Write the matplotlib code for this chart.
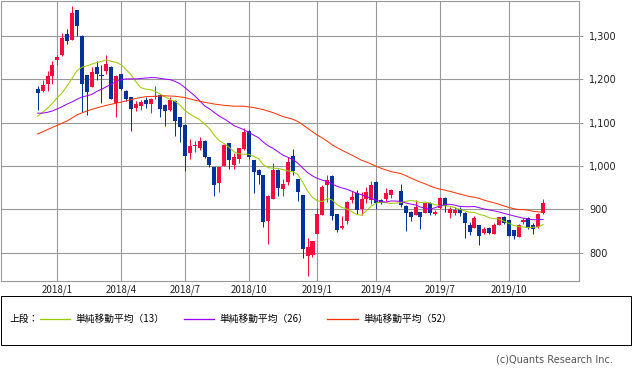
import numpy as np
import pandas as pd
import matplotlib
matplotlib.use("Agg")
import matplotlib.pyplot as plt
from matplotlib.patches import Rectangle
from matplotlib.lines import Line2D

# ---------------- data (weekly candles, week of 2017-12-04 .. 2019-11-18) ----------------
first_week = "2017-12-04"
n_weeks = 104
no_trade_week = "2019-04-29"   # Golden Week 2019, no trading

opens = [1177, 1173, 1190, 1208, 1245, 1256, 1305, 1291, 1360, 1301, 1210, 1183, 1229, 1210, 1220, 1229,
         1146, 1212, 1174, 1159, 1135, 1139, 1152, 1143, 1159, 1164, 1141, 1129, 1151, 1112, 1095, 1031,
         1046, 1041, 1058, 1020, 997, 960, 1000, 1052, 1003, 1016, 1039, 1081, 1014, 991, 979, 874,
         924, 991, 947, 962, 1023, 969, 933, 793, 795, 843, 887, 956, 978, 889, 856, 874, 922, 938,
         901, 925, 922, 964, 922, 924, 933,
         943, 908, 895, 887, 893, 892, 915, 889, 902, 927, 892, 891, 900, 892, 865, 858, 864, 845,
         858, 843, 864, 883, 875, 852, 837, 870, 881, 864, 859, 891]
highs = [1185, 1198, 1220, 1242, 1256, 1308, 1316, 1369, 1361, 1302, 1211, 1229, 1242, 1233, 1256, 1230,
         1209, 1213, 1175, 1160, 1150, 1152, 1160, 1156, 1185, 1166, 1142, 1159, 1152, 1113, 1096, 1062,
         1058, 1066, 1059, 1021, 998, 998, 1050, 1053, 1031, 1042, 1087, 1082, 1015, 992, 980, 932,
         1008, 992, 969, 1020, 1039, 970, 934, 833, 828, 902, 956, 979, 979, 890, 885, 919, 943, 945,
         941, 952, 965, 965, 923, 950, 947,
         958, 909, 896, 922, 894, 915, 916, 899, 928, 928, 906, 906, 906, 893, 871, 885, 865, 860,
         859, 868, 883, 884, 876, 853, 866, 881, 882, 868, 892, 923]
lows = [1129, 1171, 1174, 1189, 1233, 1255, 1281, 1290, 1301, 1125, 1118, 1182, 1198, 1146, 1212, 1154,
        1114, 1176, 1150, 1081, 1127, 1129, 1135, 1123, 1155, 1112, 1093, 1128, 1070, 1056, 989, 1016,
        1033, 1037, 1019, 998, 931, 941, 999, 992, 992, 1008, 1038, 1016, 938, 958, 860, 820,
        923, 931, 931, 956, 979, 920, 787, 747, 791, 842, 886, 918, 875, 848, 855, 866, 914, 889,
        887, 914, 912, 900, 912, 920, 926,
        906, 851, 872, 886, 855, 891, 887, 886, 901, 895, 879, 887, 885, 835, 841, 857, 818, 843,
        843, 842, 863, 866, 838, 832, 836, 866, 855, 843, 858, 890]
closes = [1169, 1187, 1208, 1233, 1252, 1296, 1289, 1354, 1324, 1189, 1171, 1218, 1212, 1208, 1235, 1155,
          1208, 1178, 1155, 1132, 1144, 1148, 1143, 1155, 1162, 1132, 1127, 1152, 1105, 1089, 1023, 1046,
          1049, 1058, 1020, 1002, 956, 997, 1049, 1014, 1021, 1041, 1079, 1020, 987, 979, 871, 931,
          991, 949, 959, 1010, 989, 941, 808, 814, 827, 889, 952, 968, 885, 852, 862, 918, 929, 898,
          924, 941, 956, 914, 915, 938, 945,
          910, 891, 882, 906, 883, 914, 891, 895, 927, 908, 900, 899, 892, 869, 848, 879, 839, 855,
          845, 864, 882, 868, 839, 839, 865, 875, 856, 855, 889, 915]

# moving-average values at the start of the chart (earlier history not shown)
ma13_head = [1115, 1124, 1133, 1145, 1158, 1169, 1185, 1202, 1220, 1228, 1231, 1235]
ma26_head = [1122, 1122, 1124, 1127, 1132, 1137, 1143, 1148, 1154, 1159, 1162, 1165, 1172, 1177, 1183,
             1189, 1195, 1199, 1201, 1201, 1201, 1202, 1203, 1204, 1204]
ma52_head_weeks = list(range(0, 51, 2))
ma52_head = [1074, 1084, 1094, 1104, 1118, 1127, 1134, 1140, 1145, 1150, 1156, 1160, 1161, 1162, 1161,
             1158, 1152, 1147, 1143, 1140, 1138, 1138, 1135, 1130, 1123, 1114]

y_ticks = [800, 900, 1000, 1100, 1200, 1300]
legend_labels = ["単純移動平均（13）", "単純移動平均（26）", "単純移動平均（52）"]
legend_title = "上段："
credit = "(c)Quants Research Inc."

# ---------------- styles ----------------
UP = "#FF0A3C"
DOWN = "#003399"
C13 = "#99CC00"
C26 = "#9900FF"
C52 = "#FF3300"
GRID = "#999999"
W, H = 633, 371
PX = 72 / 100  # one pixel in points at dpi 100

all_mondays = pd.date_range(first_week, periods=n_weeks, freq="W-MON")
trade_weeks = all_mondays[all_mondays != pd.Timestamp(no_trade_week)]
x = np.array(((trade_weeks - all_mondays[0]).days // 7), dtype=float)

o = np.array(opens, float); h = np.array(highs, float)
l = np.array(lows, float); c = np.array(closes, float)

s = pd.Series(c)
ma13 = s.rolling(13).mean().to_numpy()
ma26 = s.rolling(26).mean().to_numpy()
ma52 = s.rolling(52).mean().to_numpy()

fig = plt.figure(figsize=(W / 100, H / 100), dpi=100)
ax = fig.add_axes([1 / W, 1 - 280.5 / H, 578 / W, 280 / H])

# grid / ticks
ticks_idx = [k for k, d in enumerate(all_mondays) if d.month in (1, 4, 7, 10) and d.day <= 7]
tick_lbls = [f"{all_mondays[k].year}/{all_mondays[k].month}" for k in ticks_idx]
ax.set_xticks(ticks_idx)
ax.set_xticklabels(tick_lbls, fontfamily=["Noto Sans CJK JP", "DejaVu Sans"], fontsize=7, color="#222222")
ax.set_yticks(y_ticks)
ax.set_yticklabels([f"{v:,}" for v in y_ticks], fontsize=7, color="#222222")
ax.grid(True, color=GRID, lw=1.1 * PX, zorder=0)
ax.set_axisbelow(True)

# candles
up = c >= o
bw = 0.82
body_lo = np.minimum(o, c)
body_h = np.maximum(np.abs(c - o), 2.0)
for mask, col in ((up, UP), (~up, DOWN)):
    ax.vlines(x[mask], l[mask], h[mask], color=col, lw=1.0 * PX, zorder=2)
    ax.bar(x[mask], body_h[mask], bottom=body_lo[mask], width=bw, color=col, lw=0, zorder=3)

# moving averages: head, remainder computed from the closes
n13, n26, n52 = len(ma13_head), len(ma26_head), 51
ax.plot(np.r_[x[:n13], x[n13:]], np.r_[ma13_head, ma13[n13:]], color=C13, lw=1.0 * PX, zorder=4)
ax.plot(np.r_[x[:n26], x[n26:]], np.r_[ma26_head, ma26[n26:]], color=C26, lw=1.0 * PX, zorder=4)
ax.plot(np.r_[np.array(ma52_head_weeks, float), x[n52:]], np.r_[ma52_head, ma52[n52:]],
        color=C52, lw=1.0 * PX, zorder=4)

ax.set_xlim((1 - 37.7) / 4.907, (579 - 37.7) / 4.907)
ax.set_ylim(1383.1 - 2.3077 * 280.5, 1383.1 - 2.3077 * 0.5)

for sp in ax.spines.values():
    sp.set_color(GRID)
    sp.set_linewidth(1.1 * PX)
ax.yaxis.tick_right()
ax.tick_params(axis="y", length=3, width=1.0 * PX, color=GRID, pad=4.5)
ax.tick_params(axis="x", length=0, pad=3)

# legend box
fig.patches.append(Rectangle((1 / W, 1 - 345 / H), 630 / W, 49 / H, transform=fig.transFigure,
                             fill=False, edgecolor="black", lw=1.0 * PX))
ly = 1 - 319 / H
cjk = ["Noto Sans CJK JP", "DejaVu Sans"]
fig.text(9 / W, ly, legend_title, fontsize=7, fontfamily=cjk, va="center", ha="left")
for (x0, x1, xt), col, lab in zip([(40, 70, 75), (184, 214, 219), (327, 358, 363)], [C13, C26, C52], legend_labels):
    fig.lines.append(Line2D([x0 / W, x1 / W], [ly, ly], transform=fig.transFigure, color=col, lw=1.3 * PX))
    fig.text(xt / W, ly, lab, fontsize=7, fontfamily=cjk, va="center", ha="left")

fig.text(613 / W, 1 - 359 / H, credit, fontsize=7, color="#555555", ha="right", va="center")

fig.savefig("out.png", dpi=100)
